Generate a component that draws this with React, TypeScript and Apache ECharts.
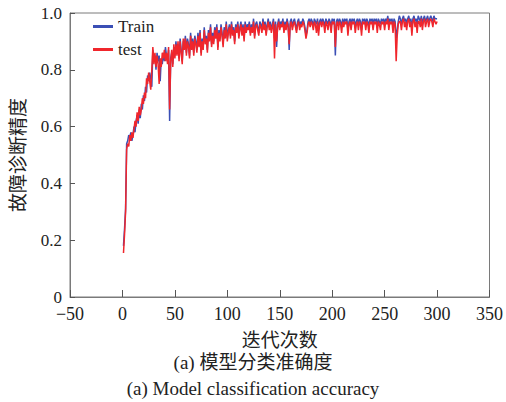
import React, { useEffect, useRef } from "react";
import * as echarts from "echarts";

const trainAcc: number[] = [
  0.18, 0.24, 0.31, 0.54, 0.55, 0.57, 0.56, 0.58, 0.55, 0.57,
  0.60, 0.58, 0.62, 0.64, 0.61, 0.66, 0.63, 0.68, 0.66, 0.71,
  0.69, 0.74, 0.72, 0.78, 0.76, 0.79, 0.77, 0.74, 0.87, 0.84,
  0.85, 0.80, 0.86, 0.83, 0.85, 0.76, 0.84, 0.82, 0.86, 0.83,
  0.88, 0.85, 0.83, 0.87, 0.62, 0.84, 0.86, 0.82, 0.88, 0.85,
  0.90, 0.86, 0.89, 0.84, 0.91, 0.87, 0.83, 0.90, 0.88, 0.92,
  0.86, 0.91, 0.89, 0.85, 0.93, 0.88, 0.91, 0.86, 0.92, 0.90,
  0.87, 0.93, 0.89, 0.94, 0.86, 0.91, 0.88, 0.95, 0.90, 0.92,
  0.87, 0.94, 0.91, 0.96, 0.89, 0.93, 0.90, 0.95, 0.92, 0.96,
  0.88, 0.94, 0.91, 0.96, 0.93, 0.89, 0.95, 0.92, 0.97, 0.91,
  0.94, 0.96, 0.92, 0.97, 0.93, 0.95, 0.90, 0.96, 0.94, 0.97,
  0.92, 0.95, 0.97, 0.93, 0.96, 0.91, 0.97, 0.94, 0.96, 0.95,
  0.97, 0.93, 0.96, 0.94, 0.98, 0.92, 0.96, 0.97, 0.95, 0.93,
  0.97, 0.96, 0.94, 0.98, 0.95, 0.97, 0.93, 0.96, 0.98, 0.95,
  0.97, 0.94, 0.96, 0.98, 0.91, 0.97, 0.88, 0.96, 0.98, 0.95,
  0.97, 0.96, 0.98, 0.94, 0.97, 0.95, 0.98, 0.96, 0.87, 0.97,
  0.98, 0.95, 0.97, 0.98, 0.96, 0.94, 0.97, 0.98, 0.95, 0.97,
  0.96, 0.98, 0.97, 0.95, 0.92, 0.94, 0.97, 0.98, 0.96, 0.98,
  0.97, 0.95, 0.98, 0.97, 0.96, 0.98, 0.94, 0.97, 0.98, 0.96,
  0.98, 0.97, 0.95, 0.98, 0.97, 0.96, 0.98, 0.97, 0.95, 0.98,
  0.97, 0.98, 0.85, 0.97, 0.98, 0.96, 0.98, 0.97, 0.95, 0.98,
  0.96, 0.98, 0.97, 0.98, 0.94, 0.97, 0.98, 0.96, 0.98, 0.97,
  0.98, 0.95, 0.97, 0.98, 0.96, 0.98, 0.97, 0.94, 0.98, 0.97,
  0.98, 0.96, 0.98, 0.97, 0.95, 0.98, 0.97, 0.98, 0.96, 0.98,
  0.97, 0.98, 0.95, 0.98, 0.97, 0.96, 0.98, 0.97, 0.98, 0.96,
  0.98, 0.97, 0.99, 0.96, 0.98, 0.97, 0.98, 0.95, 0.98, 0.97,
  0.91, 0.94, 0.97, 0.99, 0.98, 0.96, 0.98, 0.99, 0.97, 0.98,
  0.96, 0.98, 0.99, 0.97, 0.98, 0.95, 0.98, 0.99, 0.97, 0.98,
  0.96, 0.99, 0.98, 0.97, 0.99, 0.96, 0.98, 0.99, 0.97, 0.98,
  0.99, 0.97, 0.98, 0.99, 0.98, 0.97, 0.99, 0.98, 0.98, 0.98,
];

const testAcc: number[] = [
  0.155, 0.22, 0.30, 0.52, 0.54, 0.53, 0.57, 0.55, 0.58, 0.56,
  0.59, 0.62, 0.60, 0.65, 0.62, 0.67, 0.64, 0.66, 0.70, 0.68,
  0.72, 0.70, 0.77, 0.75, 0.79, 0.76, 0.73, 0.80, 0.88, 0.82,
  0.86, 0.81, 0.85, 0.82, 0.75, 0.84, 0.81, 0.86, 0.84, 0.87,
  0.83, 0.86, 0.82, 0.88, 0.66, 0.83, 0.87, 0.81, 0.89, 0.84,
  0.89, 0.85, 0.90, 0.83, 0.90, 0.86, 0.82, 0.91, 0.87, 0.91,
  0.85, 0.90, 0.88, 0.84, 0.92, 0.87, 0.90, 0.85, 0.91, 0.89,
  0.86, 0.92, 0.88, 0.93, 0.85, 0.90, 0.87, 0.94, 0.89, 0.91,
  0.86, 0.93, 0.90, 0.95, 0.88, 0.92, 0.89, 0.94, 0.91, 0.95,
  0.87, 0.93, 0.90, 0.95, 0.92, 0.88, 0.94, 0.91, 0.96, 0.90,
  0.93, 0.95, 0.91, 0.96, 0.92, 0.94, 0.89, 0.95, 0.93, 0.96,
  0.91, 0.94, 0.96, 0.92, 0.95, 0.90, 0.96, 0.93, 0.95, 0.94,
  0.96, 0.92, 0.95, 0.93, 0.97, 0.91, 0.95, 0.96, 0.94, 0.92,
  0.96, 0.95, 0.93, 0.97, 0.94, 0.96, 0.92, 0.95, 0.97, 0.94,
  0.96, 0.93, 0.95, 0.97, 0.84, 0.96, 0.90, 0.95, 0.97, 0.94,
  0.96, 0.95, 0.97, 0.93, 0.96, 0.94, 0.97, 0.95, 0.89, 0.96,
  0.97, 0.94, 0.96, 0.97, 0.95, 0.93, 0.96, 0.97, 0.94, 0.96,
  0.95, 0.97, 0.96, 0.94, 0.91, 0.93, 0.96, 0.97, 0.95, 0.97,
  0.96, 0.94, 0.97, 0.96, 0.93, 0.97, 0.92, 0.96, 0.97, 0.95,
  0.97, 0.96, 0.93, 0.97, 0.96, 0.94, 0.97, 0.96, 0.93, 0.97,
  0.96, 0.97, 0.88, 0.96, 0.97, 0.94, 0.97, 0.96, 0.93, 0.97,
  0.95, 0.97, 0.96, 0.97, 0.92, 0.96, 0.97, 0.94, 0.97, 0.96,
  0.97, 0.93, 0.96, 0.97, 0.94, 0.97, 0.96, 0.92, 0.97, 0.96,
  0.97, 0.94, 0.97, 0.96, 0.93, 0.97, 0.96, 0.97, 0.94, 0.97,
  0.96, 0.97, 0.93, 0.97, 0.96, 0.94, 0.97, 0.96, 0.97, 0.94,
  0.97, 0.96, 0.98, 0.94, 0.97, 0.96, 0.97, 0.93, 0.97, 0.96,
  0.83, 0.92, 0.96, 0.97, 0.97, 0.94, 0.97, 0.98, 0.95, 0.97,
  0.94, 0.97, 0.98, 0.95, 0.97, 0.92, 0.97, 0.98, 0.95, 0.97,
  0.93, 0.97, 0.97, 0.95, 0.98, 0.94, 0.97, 0.98, 0.95, 0.97,
  0.98, 0.95, 0.97, 0.98, 0.97, 0.95, 0.98, 0.97, 0.96, 0.97,
];

const seriesNames = ["Train", "test"];
const captionCn = "(a) 模型分类准确度";
const captionEn = "(a) Model classification accuracy";
const xName = "迭代次数";
const yName = "故障诊断精度";

const FONT = "Liberation Serif, Noto Sans CJK SC, serif";

export default function App() {
  const ref = useRef<HTMLDivElement>(null);
  useEffect(() => {
    if (!ref.current) return;
    const chart = echarts.init(ref.current, undefined, { renderer: "svg" });
    const trainData = trainAcc.map((v, i) => [i + 1, v]);
    const testData = testAcc.map((v, i) => [i + 1, v]);
    chart.setOption({
      animation: false,
      backgroundColor: "#ffffff",
      textStyle: { fontFamily: FONT },
      grid: {
        left: 70,
        right: 16,
        top: 13,
        bottom: 105,
        show: true,
        borderColor: "#7a7a7a",
        borderWidth: 1,
      },
      legend: {
        data: seriesNames,
        orient: "vertical",
        left: 88,
        top: 13,
        itemGap: 6,
        itemWidth: 20,
        itemHeight: 3,
        icon: "rect",
        textStyle: { fontFamily: FONT, fontSize: 17, color: "#222" },
      },
      xAxis: {
        type: "value",
        min: -50,
        max: 350,
        interval: 50,
        name: xName,
        nameLocation: "middle",
        nameGap: 34,
        nameTextStyle: { fontFamily: FONT, fontSize: 19, color: "#222" },
        axisLine: { onZero: false, lineStyle: { color: "#7a7a7a" } },
        axisTick: { inside: true, length: 7, lineStyle: { color: "#555" } },
        axisLabel: {
          fontFamily: FONT,
          fontSize: 18,
          color: "#222",
          margin: 8,
          formatter: (v: number) => (v < 0 ? "\u2212" + Math.abs(v) : String(v)),
        },
        splitLine: { show: false },
      },
      yAxis: {
        type: "value",
        min: 0,
        max: 1,
        interval: 0.2,
        name: yName,
        nameLocation: "middle",
        nameGap: 42,
        nameTextStyle: { fontFamily: FONT, fontSize: 19, color: "#222" },
        axisLine: { show: true, onZero: false, lineStyle: { color: "#7a7a7a" } },
        axisTick: { show: true, inside: true, length: 5, lineStyle: { color: "#555" } },
        axisLabel: {
          fontFamily: FONT,
          fontSize: 17,
          color: "#222",
          margin: 8,
          formatter: (v: number) => (v === 0 ? "0" : v.toFixed(1)),
        },
        splitLine: { show: false },
      },
      series: [
        {
          name: seriesNames[0],
          type: "line",
          data: trainData,
          showSymbol: false,
          lineStyle: { color: "#3b4fb5", width: 1.5 },
          itemStyle: { color: "#3b4fb5" },
          z: 2,
        },
        {
          name: seriesNames[1],
          type: "line",
          data: testData,
          showSymbol: false,
          lineStyle: { color: "#f0262c", width: 1.5 },
          itemStyle: { color: "#f0262c" },
          z: 3,
        },
      ],
      graphic: [
        {
          type: "text",
          left: "center",
          top: 353,
          style: {
            text: captionCn,
            fontFamily: FONT,
            fontSize: 19,
            fill: "#222",
          },
        },
        {
          type: "text",
          left: "center",
          top: 379,
          style: {
            text: captionEn,
            fontFamily: FONT,
            fontSize: 19,
            fill: "#222",
          },
        },
      ],
    });
    return () => chart.dispose();
  }, []);
  return (
    <div
      ref={ref}
      style={{ position: "fixed", left: 0, top: 0, width: 506, height: 402, background: "#fff" }}
    />
  );
}
